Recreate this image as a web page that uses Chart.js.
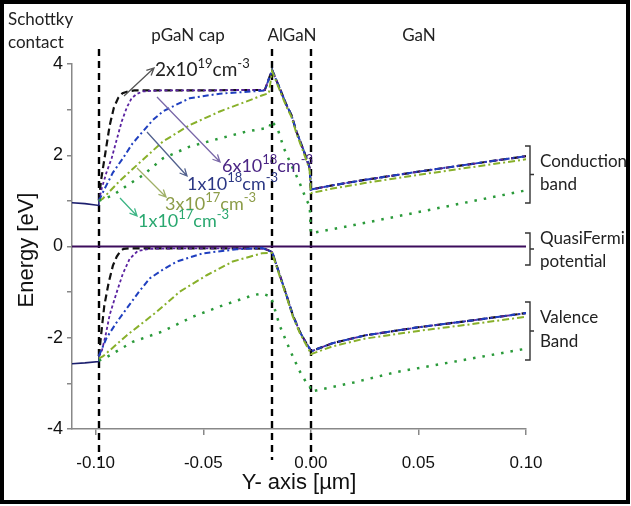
<!DOCTYPE html>
<html>
<head>
<meta charset="utf-8">
<script src="https://cdn.jsdelivr.net/npm/chart.js@4.4.1/dist/chart.umd.min.js"></script>
<style>
  html, body { margin: 0; padding: 0; background: #fff; }
  #wrap { width: 631px; height: 506px; }
</style>
</head>
<body>
<div id="wrap"><canvas id="bandChart" width="631" height="506"></canvas></div>
<script>
// ============================================================
// Band diagram — pGaN cap / AlGaN / GaN, several Mg dopings
// ============================================================

const xMin = -0.111;
const xMax = 0.10;
const xTickValues = [-0.10, -0.05, 0.00, 0.05, 0.10];
const yTickValues = [-4, -3, -2, -1, 0, 1, 2, 3, 4];
const xBoundaries = [-0.0985, -0.018, 0.0];

const regionNames = ["pGaN cap", "AlGaN", "GaN"];
const dopingMantissa = ["2", "6", "1", "3", "1"];
const dopingExponent = ["19", "18", "18", "17", "17"];
const bandNames = [["Conduction", "band"], ["QuasiFermi", "potential"], ["Valence", "Band"]];

// Schottky contact side (x < -0.0985)
const contactX = [-0.111, -0.105, -0.0985, -0.0985];
const contactCbY = [0.96, 0.94, 0.90, 1.0];
const contactVbY = [-2.57, -2.55, -2.52, -2.4];

// Quasi Fermi level
const fermiX = [-0.111, 0.10];
const fermiY = [0, 0];

// AlGaN barrier + GaN channel, shared by the heavier dopings
const cbBarrierX = [-0.018, -0.0144, -0.0113, -0.009, -0.0067, -0.0037, -0.0014, -0.0005, 0.0, 0.01, 0.025, 0.05, 0.075, 0.10];
const cbBarrierY = [3.87, 3.46, 3.10, 2.88, 2.52, 2.15, 1.86, 1.71, 1.25, 1.34, 1.46, 1.64, 1.81, 1.98];
const vbBarrierX = [-0.018, -0.0144, -0.0113, -0.0084, -0.0051, -0.002, -0.0005, 0.0, 0.01, 0.025, 0.05, 0.075, 0.10];
const vbBarrierY = [-0.12, -0.63, -1.07, -1.50, -1.87, -2.13, -2.24, -2.30, -2.12, -1.95, -1.77, -1.62, -1.46];

// Conduction band, pGaN part
const cb2e19X = [-0.0985, -0.0975, -0.0955, -0.0935, -0.0915, -0.0895, -0.0875, -0.085, -0.082, -0.07, -0.05, -0.035, -0.0214];
const cb2e19Y = [1.0, 1.45, 2.05, 2.65, 3.05, 3.26, 3.36, 3.40, 3.42, 3.42, 3.42, 3.43, 3.43];
const cb6e18X = [-0.0985, -0.0972, -0.095, -0.0926, -0.090, -0.0879, -0.0855, -0.0833, -0.081, -0.0781, -0.07, -0.05, -0.035, -0.0214];
const cb6e18Y = [1.0, 1.27, 1.62, 1.93, 2.38, 2.74, 3.05, 3.25, 3.34, 3.40, 3.42, 3.42, 3.43, 3.43];
const cb1e18X = [-0.0985, -0.0958, -0.092, -0.0874, -0.083, -0.0781, -0.0735, -0.0688, -0.062, -0.0563, -0.0423, -0.027, -0.0214];
const cb1e18Y = [1.0, 1.27, 1.62, 1.93, 2.25, 2.52, 2.77, 2.96, 3.12, 3.25, 3.35, 3.40, 3.42];
const cb3e17X = [-0.0985, -0.0967, -0.089, -0.0809, -0.0688, -0.0563, -0.0423, -0.0298, -0.0228, -0.0195, -0.018, -0.0144, -0.0113, -0.009, -0.0067, -0.0037, -0.0014, -0.0005, 0.0, 0.01, 0.025, 0.05, 0.075, 0.10];
const cb3e17Y = [1.0, 1.05, 1.43, 1.78, 2.30, 2.66, 2.96, 3.18, 3.31, 3.36, 3.84, 3.42, 3.06, 2.84, 2.48, 2.10, 1.80, 1.65, 1.17, 1.27, 1.39, 1.57, 1.74, 1.91];
const cb1e17X = [-0.0985, -0.0921, -0.085, -0.0781, -0.0688, -0.0563, -0.0423, -0.0298, -0.0214, -0.0192, -0.0185, -0.0155, -0.0125, -0.009, -0.0055, -0.0023, -0.0005, 0.0, 0.02, 0.04, 0.06, 0.08, 0.10];
const cb1e17Y = [1.0, 1.12, 1.35, 1.56, 1.93, 2.19, 2.37, 2.52, 2.59, 2.60, 2.76, 2.59, 2.15, 1.78, 1.43, 1.05, 0.88, 0.29, 0.47, 0.66, 0.85, 1.04, 1.23];

// Valence band, pGaN part
const vb2e19X = [-0.0985, -0.0975, -0.096, -0.094, -0.092, -0.0902, -0.0885, -0.087, -0.084, -0.07, -0.05, -0.03, -0.0214];
const vb2e19Y = [-2.4, -1.95, -1.30, -0.80, -0.42, -0.22, -0.10, -0.05, -0.04, -0.04, -0.04, -0.04, -0.05];
const vb6e18X = [-0.0985, -0.0972, -0.0954, -0.0935, -0.0902, -0.0874, -0.0842, -0.0805, -0.075, -0.06, -0.04, -0.0214];
const vb6e18Y = [-2.4, -2.30, -1.95, -1.50, -1.00, -0.60, -0.27, -0.10, -0.05, -0.04, -0.04, -0.05];
const vb1e18X = [-0.0985, -0.0949, -0.0905, -0.0856, -0.080, -0.0749, -0.0685, -0.0623, -0.0502, -0.0344, -0.0228];
const vb1e18Y = [-2.4, -2.00, -1.68, -1.36, -1.00, -0.70, -0.50, -0.33, -0.15, -0.06, -0.03];
const vb3e17X = [-0.0985, -0.0967, -0.0856, -0.0716, -0.0609, -0.0484, -0.0363, -0.0228, -0.018, -0.0144, -0.0113, -0.0084, -0.0051, -0.002, -0.0005, 0.0, 0.01, 0.025, 0.05, 0.075, 0.10];
const vb3e17Y = [-2.45, -2.41, -1.95, -1.43, -0.99, -0.63, -0.33, -0.15, -0.14, -0.66, -1.10, -1.53, -1.90, -2.17, -2.30, -2.36, -2.19, -2.02, -1.85, -1.70, -1.54];
const vb1e17X = [-0.0985, -0.0958, -0.0828, -0.0688, -0.0549, -0.0409, -0.027, -0.0228, -0.0185, -0.0145, -0.0113, -0.008, -0.005, -0.0025, -0.0005, 0.0, 0.02, 0.04, 0.06, 0.08, 0.10];
const vb1e17Y = [-2.5, -2.45, -2.09, -1.86, -1.54, -1.29, -1.07, -1.03, -1.10, -1.73, -2.09, -2.45, -2.75, -2.95, -3.05, -3.18, -2.98, -2.75, -2.58, -2.41, -2.24];

// ============================================================
// STYLE
// ============================================================

const LABEL_FONT = "Lato, 'Open Sans', sans-serif";
const AXIS_FONT = "'Liberation Sans', Arial, sans-serif";

const C_2E19 = "#111111";
const C_6E18 = "#5a22a0";
const C_1E18 = "#1f3fbf";
const C_3E17 = "#88b02a";
const C_1E17 = "#2a9a3a";

function toPoints(xs, ys) {
  return xs.map((x, i) => ({ x, y: ys[i] }));
}

function curve(xs, ys, color, dash, width) {
  return {
    data: toPoints(xs, ys),
    showLine: true,
    borderColor: color,
    borderWidth: width,
    borderDash: dash,
    pointRadius: 0,
    tension: 0,
    fill: false
  };
}

const datasets = [
  // lightest doping first, heaviest on top
  curve(cb1e17X, cb1e17Y, C_1E17, [2.5, 7], 2.5),
  curve(vb1e17X, vb1e17Y, C_1E17, [2.5, 7], 2.5),
  curve(cb3e17X, cb3e17Y, C_3E17, [7, 3, 2, 3], 2),
  curve(vb3e17X, vb3e17Y, C_3E17, [7, 3, 2, 3], 2),
  curve([...cb1e18X, ...cbBarrierX], [...cb1e18Y, ...cbBarrierY], C_1E18, [6, 3, 2, 3], 2),
  curve([...vb1e18X, ...vbBarrierX], [...vb1e18Y, ...vbBarrierY], C_1E18, [6, 3, 2, 3], 2),
  curve([...cb6e18X, ...cbBarrierX], [...cb6e18Y, ...cbBarrierY], C_6E18, [3, 2.5], 1.8),
  curve([...vb6e18X, ...vbBarrierX], [...vb6e18Y, ...vbBarrierY], C_6E18, [3, 2.5], 1.8),
  curve([...cb2e19X, ...cbBarrierX], [...cb2e19Y, ...cbBarrierY], C_2E19, [7, 4], 2.2),
  curve([...vb2e19X, ...vbBarrierX], [...vb2e19Y, ...vbBarrierY], C_2E19, [7, 4], 2.2),
  curve(contactX, contactCbY, "#1c1f6e", [], 1.6),
  curve(contactX, contactVbY, "#1c1f6e", [], 1.6),
  curve(fermiX, fermiY, "#3c0d5c", [], 2)
];

// ============================================================
// DRAW HELPERS
// ============================================================

function drawSci(ctx, x, y, mant, exp, color, size) {
  const sup = Math.round(size * 0.7);
  ctx.fillStyle = color;
  ctx.textAlign = "left";
  ctx.textBaseline = "alphabetic";
  let cx = x;
  ctx.font = `${size}px ${LABEL_FONT}`;
  ctx.fillText(mant + "x10", cx, y);
  cx += ctx.measureText(mant + "x10").width;
  ctx.font = `${sup}px ${LABEL_FONT}`;
  ctx.fillText(exp, cx, y - size * 0.42);
  cx += ctx.measureText(exp).width;
  ctx.font = `${size}px ${LABEL_FONT}`;
  ctx.fillText("cm", cx, y);
  cx += ctx.measureText("cm").width;
  ctx.font = `${sup}px ${LABEL_FONT}`;
  ctx.fillText("-3", cx, y - size * 0.42);
}

function drawArrow(ctx, x1, y1, x2, y2, color) {
  const ang = Math.atan2(y2 - y1, x2 - x1);
  const h = 8;
  ctx.strokeStyle = color;
  ctx.lineWidth = 1.3;
  ctx.setLineDash([]);
  ctx.beginPath();
  ctx.moveTo(x1, y1);
  ctx.lineTo(x2, y2);
  ctx.moveTo(x2 - h * Math.cos(ang - 0.45), y2 - h * Math.sin(ang - 0.45));
  ctx.lineTo(x2, y2);
  ctx.lineTo(x2 - h * Math.cos(ang + 0.45), y2 - h * Math.sin(ang + 0.45));
  ctx.stroke();
}

function drawBracket(ctx, x, top, bottom) {
  const mid = (top + bottom) / 2;
  ctx.strokeStyle = "#333";
  ctx.lineWidth = 1.4;
  ctx.setLineDash([]);
  ctx.beginPath();
  ctx.moveTo(x - 5, top);
  ctx.lineTo(x, top);
  ctx.lineTo(x, bottom);
  ctx.lineTo(x - 5, bottom);
  ctx.moveTo(x, mid);
  ctx.lineTo(x + 4, mid);
  ctx.stroke();
}

const boundaryPlugin = {
  id: "boundaries",
  beforeDatasetsDraw(chart) {
    const ctx = chart.ctx;
    const xs = chart.scales.x;
    ctx.save();
    ctx.strokeStyle = "#000";
    ctx.lineWidth = 2.4;
    ctx.setLineDash([7, 5]);
    xBoundaries.forEach(v => {
      const px = Math.round(xs.getPixelForValue(v));
      ctx.beginPath();
      ctx.moveTo(px, 49);
      ctx.lineTo(px, 460);
      ctx.stroke();
    });
    ctx.restore();
  }
};

const labelPlugin = {
  id: "labels",
  afterDraw(chart) {
    const ctx = chart.ctx;
    ctx.save();

    // region labels
    ctx.fillStyle = "#222";
    ctx.font = `17px ${LABEL_FONT}`;
    ctx.textAlign = "left";
    ctx.fillText("Schottky", 8, 25);
    ctx.fillText("contact", 8, 48);
    ctx.textAlign = "center";
    ctx.fillText(regionNames[0], 188, 41);
    ctx.fillText(regionNames[1], 292, 41);
    ctx.fillText(regionNames[2], 419, 41);

    // doping annotations
    const annColors = ["#222222", "#4b2585", "#2b3784", "#8c9c48", "#2aa870"];
    const arrowColors = ["#555555", "#7a68a8", "#52618e", "#9fb067", "#3db585"];
    const annSizes = [19, 18, 18, 18, 18];
    const annPos = [[155, 76], [222, 172], [187, 190], [165, 210], [138, 227]];
    const arrows = [
      [124, 96, 154, 68],
      [157, 97, 220, 162],
      [147, 132, 187, 176],
      [137, 168, 166, 197],
      [120, 198, 137, 216]
    ];
    arrows.forEach((a, i) => drawArrow(ctx, a[0], a[1], a[2], a[3], arrowColors[i]));
    annPos.forEach((p, i) => drawSci(ctx, p[0], p[1], dopingMantissa[i], dopingExponent[i], annColors[i], annSizes[i]));

    // band brackets
    drawBracket(ctx, 530, 146, 203);
    drawBracket(ctx, 530, 233, 265);
    drawBracket(ctx, 530, 302, 360);
    ctx.fillStyle = "#222";
    ctx.font = `17px ${LABEL_FONT}`;
    ctx.textAlign = "left";
    ctx.fillText(bandNames[0][0], 540, 167);
    ctx.fillText(bandNames[0][1], 540, 190);
    ctx.fillText(bandNames[1][0], 540, 244);
    ctx.fillText(bandNames[1][1], 540, 267);
    ctx.fillText(bandNames[2][0], 540, 323);
    ctx.fillText(bandNames[2][1], 540, 347);

    // axis titles
    ctx.fillStyle = "#111";
    ctx.font = `22px ${AXIS_FONT}`;
    ctx.textAlign = "center";
    ctx.textBaseline = "middle";
    ctx.fillText("Y- axis [\u00b5m]", 299, 483);
    ctx.translate(27, 250);
    ctx.rotate(-Math.PI / 2);
    ctx.fillText("Energy [eV]", 0, 0);
    ctx.setTransform(1, 0, 0, 1, 0, 0);

    // frame
    ctx.strokeStyle = "#000";
    ctx.lineWidth = 4;
    ctx.strokeRect(2, 2, 626, 500);
    ctx.restore();
  }
};

// ============================================================
// CHART
// ============================================================

new Chart(document.getElementById("bandChart"), {
  type: "scatter",
  data: { datasets },
  options: {
    responsive: false,
    animation: false,
    layout: { padding: { left: 0, right: 105, top: 64, bottom: 0 } },
    plugins: {
      legend: { display: false },
      tooltip: { enabled: false }
    },
    scales: {
      x: {
        type: "linear",
        min: xMin,
        max: xMax,
        afterBuildTicks: scale => {
          scale.ticks = xTickValues.map(v => ({ value: v }));
        },
        afterFit: scale => { scale.height = 77; },
        ticks: {
          callback: v => Number(v).toFixed(2),
          color: "#111",
          font: { family: AXIS_FONT, size: 17 },
          padding: 18,
          maxRotation: 0,
          autoSkip: false
        },
        grid: { drawOnChartArea: false, drawTicks: true, tickLength: 6, color: "#888", lineWidth: 1.5 },
        border: { display: true, color: "#888", width: 1.5 }
      },
      y: {
        type: "linear",
        min: -4,
        max: 4,
        afterBuildTicks: scale => {
          scale.ticks = yTickValues.map(v => ({ value: v }));
        },
        afterFit: scale => { scale.width = 72; },
        ticks: {
          callback: v => (v % 2 === 0 ? String(v) : ""),
          color: "#111",
          font: { family: AXIS_FONT, size: 18 },
          padding: 4,
          autoSkip: false
        },
        grid: { drawOnChartArea: false, drawTicks: true, tickLength: 5, color: "#888", lineWidth: 1.5 },
        border: { display: true, color: "#888", width: 1.5 }
      }
    }
  },
  plugins: [boundaryPlugin, labelPlugin]
});
</script>
</body>
</html>
